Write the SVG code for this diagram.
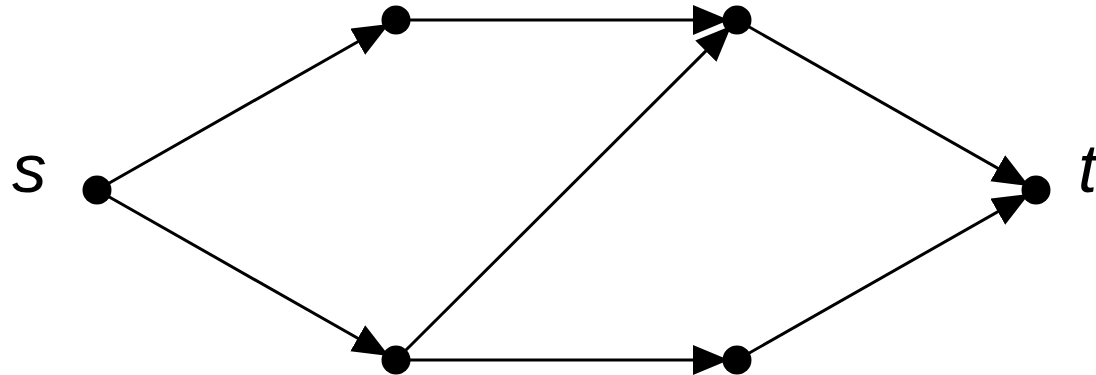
<svg xmlns="http://www.w3.org/2000/svg" width="1096" height="375" viewBox="0 0 1096 375">
<style>
.edge{stroke:#000;stroke-width:3;fill:none;marker-end:url(#arr)}
.node{fill:#000}
.lbl{font-family:"Liberation Sans",Arial,sans-serif;font-style:italic;font-size:69px;fill:#000}
</style>
<defs>
<marker id="arr" markerUnits="userSpaceOnUse" markerWidth="37" markerHeight="31" refX="36" refY="15" orient="auto">
<path d="M0,0 L36,15 L0,30 z" fill="#000"/>
</marker>
</defs>
<rect width="1096" height="375" fill="#fff"/>
<g id="connectors">
<line class="edge" x1="97" y1="190" x2="389.05" y2="23.95"/>
<line class="edge" x1="97" y1="190" x2="389.05" y2="356.05"/>
<line class="edge" x1="396" y1="20" x2="729" y2="20"/>
<line class="edge" x1="396" y1="360" x2="729" y2="360"/>
<line class="edge" x1="396" y1="360" x2="731.34" y2="25.65"/>
<line class="edge" x1="737" y1="20" x2="1029.05" y2="186.05"/>
<line class="edge" x1="737" y1="360" x2="1029.05" y2="193.95"/>
</g>
<g id="s"><circle class="node" cx="97" cy="190" r="14.5"/><text class="lbl" x="12" y="192">s</text></g>
<g id="a"><circle class="node" cx="396" cy="20" r="14.5"/></g>
<g id="b"><circle class="node" cx="737" cy="20" r="14.5"/></g>
<g id="c"><circle class="node" cx="396" cy="360" r="14.5"/></g>
<g id="d"><circle class="node" cx="737" cy="360" r="14.5"/></g>
<g id="t"><circle class="node" cx="1036" cy="190" r="14.5"/><text class="lbl" x="1078" y="192">t</text></g>
</svg>
